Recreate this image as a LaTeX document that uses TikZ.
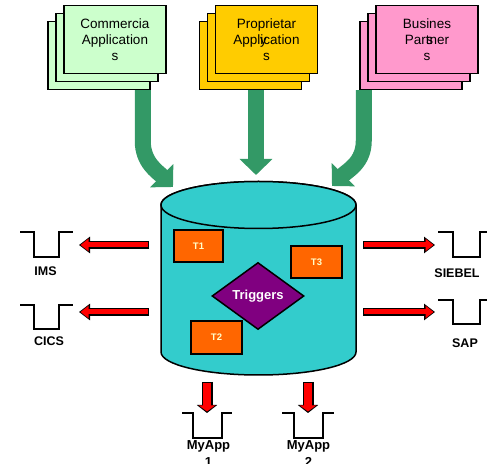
\documentclass[tikz,border=0pt]{standalone}
\usepackage{fontspec}
\setmainfont{Liberation Sans}
\usepackage{xcolor}
\usetikzlibrary{arrows.meta,shapes.geometric}

\definecolor{comgreen}{HTML}{CCFFCC}
\definecolor{propgold}{HTML}{FFCC00}
\definecolor{buspink}{HTML}{FF99CC}
\definecolor{dbcyan}{HTML}{33CCCC}
\definecolor{torange}{HTML}{FF6600}
\definecolor{trigpurple}{HTML}{800080}
\definecolor{flowgreen}{HTML}{339966}
\definecolor{tlabel}{HTML}{FFFFCC}

\begin{document}
\begin{tikzpicture}[x=1pt,y=1pt,
app/.style={draw,line width=1.5pt,minimum width=102pt,minimum height=68pt,inner sep=0pt,align=center,font=\fontsize{13.5}{16}\selectfont},
flow/.style={draw=flowgreen,line width=16pt,-{Triangle[length=16pt,width=32pt]}},
feed/.style={draw=red,line width=5pt,shorten >=1.5pt,-{Triangle[length=8pt,width=12pt]},
  preaction={draw=black,line width=8pt,shorten >=0pt,shorten <=-1pt,-{Triangle[length=11pt,width=16pt]}}},
drop/.style={draw=red,line width=8pt,shorten >=1.5pt,-{Triangle[length=6pt,width=16pt]},
  preaction={draw=black,line width=11pt,shorten >=0pt,shorten <=-1pt,-{Triangle[length=8pt,width=20pt]}}},
trough/.style={draw,line width=1.4pt},
sys/.style={font=\bfseries\fontsize{12.5}{16}\selectfont,inner sep=0pt,align=center},
tbox/.style={draw,line width=1.5pt,fill=torange,text=tlabel,inner sep=0pt,font=\bfseries\fontsize{9.5}{10}\selectfont},
db/.style={fill=dbcyan,draw,line width=1.5pt}]

\useasboundingbox (0,0) rectangle (487,463);

% source applications, back to front
\node[app,fill=comgreen](cb3) at(99,407.7){};
\node[app,fill=comgreen](cb2) at(107,415.7){};
\node[app,fill=comgreen](cb1) at(115,423.7){Commercia\\Application\\s};
\node[app,fill=propgold](pb3) at(250.5,407.7){};
\node[app,fill=propgold](pb2) at(258.5,415.7){};
\node[app,fill=propgold](pb1) at(266.5,423.7){Proprietar\\Appli\makebox[0pt]{y}cation\\s};
\node[app,fill=buspink](bb3) at(411,407.7){};
\node[app,fill=buspink](bb2) at(419,415.7){};
\node[app,fill=buspink](bb1) at(427,423.7){Busines\\Part\makebox[0pt]{s}ner\\s};

% database
\filldraw[db] (161,258) -- (161,111) arc[start angle=180,end angle=360,x radius=97.5,y radius=23]
  -- (356,258) arc[start angle=0,end angle=180,x radius=97.5,y radius=23.5] -- cycle;
\draw[db] (258.5,258) ellipse[x radius=97.5,y radius=23.5];
\coordinate(inl) at(173,276);
\coordinate(inm) at(256,288);
\coordinate(inr) at(332,277);

\node[tbox,minimum width=49pt,minimum height=32pt](t1) at(198.5,217){T1};
\node[tbox,minimum width=51pt,minimum height=32pt](t3) at(316.5,201){T3};
\node[tbox,minimum width=51pt,minimum height=33pt](t2) at(216.5,125.5){T2};
\node[diamond,draw,line width=1.5pt,fill=trigpurple,text=white,inner sep=0pt,minimum width=92pt,minimum height=67pt,
  font=\bfseries\fontsize{13}{15}\selectfont](trig) at(258,167){Triggers};

% feeds into the database
\draw[flow] ([xshift=-8pt]cb3.south east) -- ++(0,-51) to[out=-90,in=135] (inl);
\draw[flow] ([xshift=5.5pt]pb3.south) -- (inm);
\draw[flow] ([xshift=4.5pt]bb3.south west) -- ++(0,-51) to[out=-90,in=45] (inr);

% target systems
\node[sys](ims) at(45.5,192){IMS};
\node[sys](cics) at(49,122){CICS};
\node[sys](siebel) at(457,190){SIEBEL};
\node[sys](sap) at(465,120){SAP};
\node[sys,font=\bfseries\fontsize{13}{17}\selectfont](app1) at(208.5,9.5){MyApp\\1};
\node[sys,font=\bfseries\fontsize{13}{17}\selectfont](app2) at(308.5,9.5){MyApp\\2};

\draw[trough] (20,231) -- (34,231) -- (34,206) -- (59,206) -- (59,231) -- (73,231);
\draw[trough] (20,158) -- (34,158) -- (34,134) -- (59,134) -- (59,158) -- (73,158);
\draw[trough] (438,231) -- (453,231) -- (453,206) -- (480,206) -- (480,231) -- (495,231);
\draw[trough] (438,163) -- (453,163) -- (453,139) -- (480,139) -- (480,163) -- (495,163);
\draw[trough] (182,50) -- (193,50) -- (193,25) -- (222,25) -- (222,50) -- (232,50);
\draw[trough] (282,50) -- (294,50) -- (294,25) -- (323,25) -- (323,50) -- (334,50);

\coordinate(d1) at(148,218);
\coordinate(d2) at(148,151);
\coordinate(d3) at(364,218);
\coordinate(d4) at(364,151);
\coordinate(d5) at(207,80);
\coordinate(d6) at(308,80);
\coordinate(imsin) at(79,218);
\coordinate(cicsin) at(79,151);
\coordinate(siebelin) at(435,218);
\coordinate(sapin) at(435,151);
\coordinate(app1in) at(207,50);
\coordinate(app2in) at(308,50);
\draw[feed](d1)--(imsin);
\draw[feed](d2)--(cicsin);
\draw[feed](d3)--(siebelin);
\draw[feed](d4)--(sapin);
\draw[drop](d5)--(app1in);
\draw[drop](d6)--(app2in);
\end{tikzpicture}
\end{document}
